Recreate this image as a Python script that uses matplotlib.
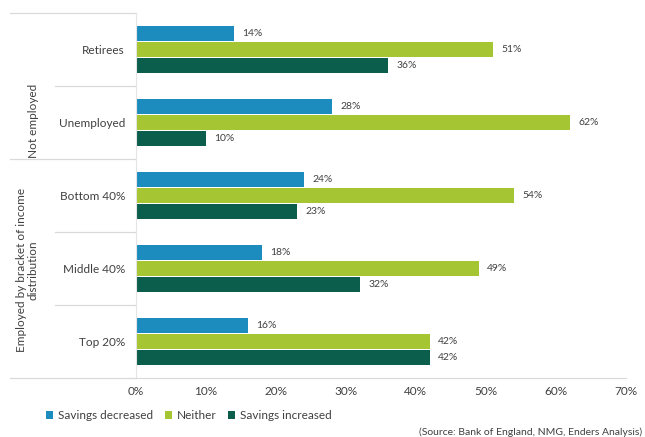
import matplotlib.pyplot as plt
import numpy as np
from matplotlib.transforms import blended_transform_factory

plt.rcParams['font.family'] = ['Lato', 'DejaVu Sans']

categories = ['Retirees', 'Unemployed', 'Bottom 40%', 'Middle 40%', 'Top 20%']
decreased = [14, 28, 24, 18, 16]
neither = [51, 62, 54, 49, 42]
increased = [36, 10, 23, 32, 42]
series_names = ['Savings decreased', 'Neither', 'Savings increased']
colors = ['#1c8cbf', '#a6c532', '#0b5d4c']
xticks = [0, 10, 20, 30, 40, 50, 60, 70]

fig = plt.figure(figsize=(6.45, 4.37), dpi=100)
ax = fig.add_axes([0.211, 0.135, 0.759, 0.835])

y = np.arange(len(categories))
step = 0.222
h = 0.205
for k, (vals, name, c) in enumerate(zip([decreased, neither, increased], series_names, colors)):
    pos = y + (k - 1) * step
    ax.barh(pos, vals, height=h, color=c, label=name)
    for p, v in zip(pos, vals):
        ax.text(v + 1.2, p, f'{v}%', va='center', ha='left', fontsize=7.5, color='#404040')

ax.set_ylim(4.5, -0.5)
ax.set_xlim(0, 70)
ax.set_xticks(xticks)
ax.set_xticklabels([f'{t}%' for t in xticks], fontsize=8.5, color='#404040')
ax.set_yticks(y)
ax.set_yticklabels(categories, fontsize=8.5, color='#404040')
ax.tick_params(length=0, pad=8)
ax.tick_params(axis='x', pad=6)

for s in ['top', 'right']:
    ax.spines[s].set_visible(False)
ax.spines['left'].set_color('#e4e4e4')
ax.spines['bottom'].set_color('#d9d9d9')

# separators in the label area
tr = blended_transform_factory(ax.transAxes, ax.transData)
for yy, x0 in [(-0.5, -0.257), (0.5, -0.165), (1.5, -0.257), (2.5, -0.165), (3.5, -0.165), (4.5, -0.257)]:
    ax.plot([x0, 0], [yy, yy], transform=tr, color='#d9d9d9', lw=0.9, clip_on=False)

# group labels
ax.text(-0.21, 1.0 - 0.02, 'Not employed', transform=tr, rotation=90, ha='center', va='center',
        fontsize=8.5, color='#404040')
ax.text(-0.222, 3.0 + 0.02, 'Employed by bracket of income\ndistribution', transform=tr, rotation=90,
        ha='center', va='center', fontsize=8.5, color='#404040', linespacing=1.1)

fig.legend(loc='lower left', bbox_to_anchor=(0.055, 0.012), ncol=3, frameon=False, fontsize=8.5,
           handlelength=0.6, handleheight=0.6, handletextpad=0.4, columnspacing=1.0,
           labelcolor='#404040')

fig.text(0.995, 0.0, '(Source: Bank of England, NMG, Enders Analysis)', ha='right', va='bottom',
         fontsize=7.5, color='#404040')

fig.savefig('out.png', dpi=100)
